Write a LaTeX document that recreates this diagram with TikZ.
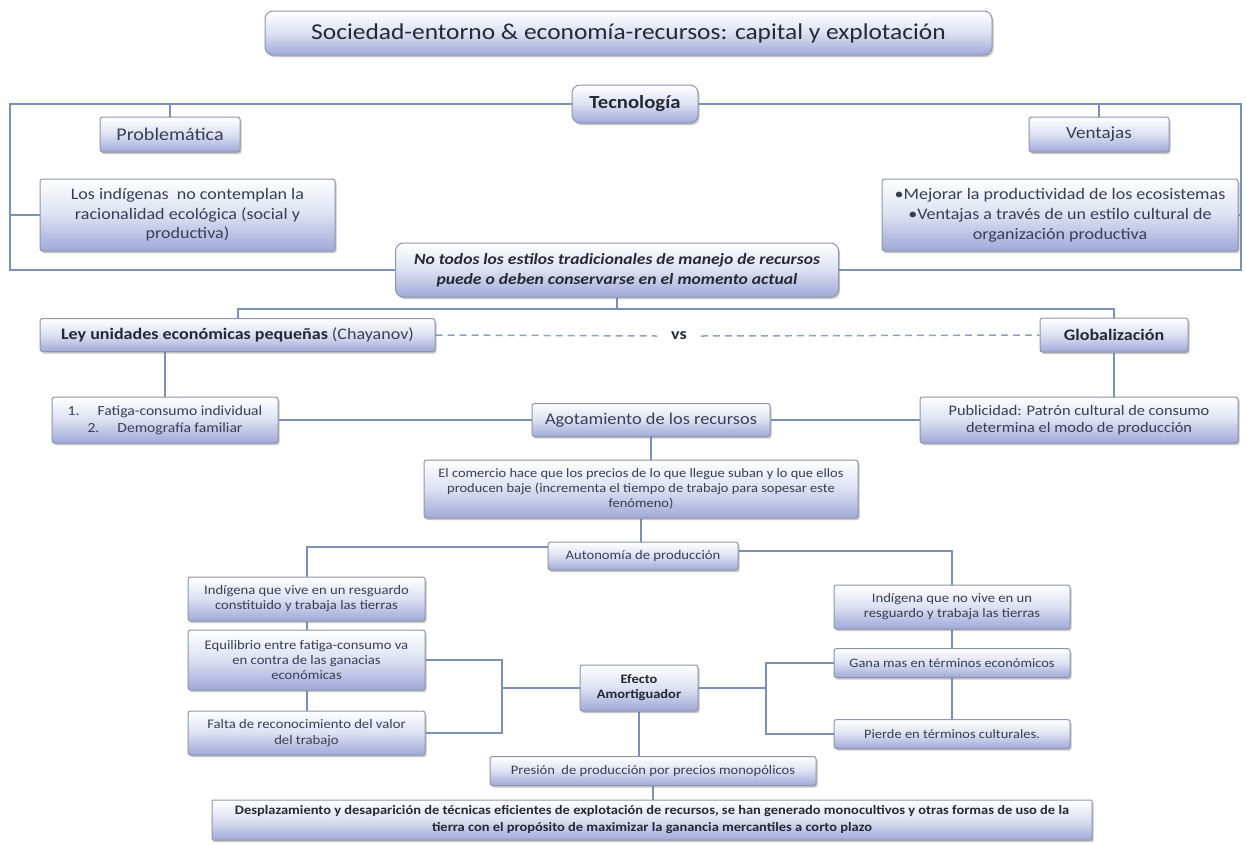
\documentclass[tikz,border=0pt]{standalone}
\usepackage{fontspec}
\setmainfont{Carlito}[FakeStretch=1.12]
\usetikzlibrary{shadows,backgrounds}
\definecolor{lnc}{HTML}{7A90B6}
\definecolor{bdc}{HTML}{8E95A8}
\definecolor{botc}{HTML}{A0A8D8}
\definecolor{midc}{HTML}{DCE0F2}
\definecolor{txc}{HTML}{3A3E54}
\definecolor{ttc}{HTML}{262833}
\tikzset{
  bx/.style={draw=bdc, line width=1pt, rounded corners=2.5pt,
    top color=white, bottom color=botc, middle color=midc,
    align=center, inner sep=2pt, text=txc,
    drop shadow={shadow xshift=1.5pt, shadow yshift=-2pt, opacity=0.4, fill=black!55}},
  rbx/.style={bx, rounded corners=8pt},
  ln/.style={draw=lnc, line width=2pt},
  dln/.style={draw=lnc!85, line width=1.5pt, dash pattern=on 7pt off 5pt},
}
\begin{document}
\begin{tikzpicture}[x=1pt, y=-1pt]
\useasboundingbox (0,0) rectangle (1246,844);

\node[rbx, minimum width=727pt, minimum height=44pt, text=ttc, font=\fontsize{22.7}{26}\selectfont] (title) at (628.5,33) {Sociedad-entorno \& economía-recursos: capital y explotación};
\node[rbx, minimum width=126pt, minimum height=38pt, text=ttc, font=\fontsize{18.5}{21}\selectfont\bfseries] (tec) at (635,104) {Tecnología};
\node[bx, minimum width=140pt, minimum height=35pt, font=\fontsize{17.9}{20}\selectfont] (prob) at (170,134.5) {Problemática};
\node[bx, minimum width=140pt, minimum height=35pt, font=\fontsize{17}{20}\selectfont] (vent) at (1099,134.5) {Ventajas};
\node[bx, minimum width=295pt, minimum height=72pt, font=\fontsize{16.1}{19.5}\selectfont] (indig) at (187.5,215) {Los indígenas\ \ no contemplan la\\racionalidad ecológica (social y\\productiva)};
\node[bx, minimum width=356pt, minimum height=72pt, font=\fontsize{16.1}{20}\selectfont] (mejor) at (1060,215) {•Mejorar la productividad de los ecosistemas\\•Ventajas a través de un estilo cultural de\\organización productiva};
\node[rbx, minimum width=443pt, minimum height=54pt, text=ttc, font=\fontsize{15.7}{20}\selectfont\bfseries\itshape] (notodos) at (617,270) {No todos los estilos tradicionales de manejo de recursos\\puede o deben conservarse en el momento actual};
\node[bx, minimum width=395pt, minimum height=33pt, font=\fontsize{16.1}{19}\selectfont] (ley) at (237.5,335) {\textcolor{ttc}{\bfseries Ley unidades económicas pequeñas} (Chayanov)};
\node[bx, minimum width=148pt, minimum height=34pt, text=ttc, font=\fontsize{16.1}{19}\selectfont\bfseries] (glob) at (1114,335) {Globalización};
\node[text=ttc, font=\fontsize{16}{19}\selectfont\bfseries, inner xsep=14pt, inner ysep=3pt] (vs) at (679,336) {vs};
\node[bx, minimum width=226pt, minimum height=46pt, font=\fontsize{13.9}{17}\selectfont] (fatiga) at (165,420) {1.\hspace{1.3em}Fatiga-consumo individual\\2.\hspace{1.3em}Demografía familiar};
\node[bx, minimum width=238pt, minimum height=33pt, font=\fontsize{16.4}{19}\selectfont] (agot) at (651,420) {Agotamiento de los recursos};
\node[bx, minimum width=318pt, minimum height=46pt, font=\fontsize{14.6}{16.5}\selectfont] (publi) at (1079,420) {Publicidad: Patrón cultural de consumo\\determina el modo de producción};
\node[bx, minimum width=434pt, minimum height=58pt, font=\fontsize{12.9}{15}\selectfont] (comer) at (641,489) {El comercio hace que los precios de lo que llegue suban y lo que ellos\\producen baje (incrementa el tiempo de trabajo para sopesar este\\fenómeno)};
\node[bx, minimum width=190pt, minimum height=28pt, font=\fontsize{13.1}{16}\selectfont] (auto) at (643,556) {Autonomía de producción};
\node[bx, minimum width=237pt, minimum height=44pt, font=\fontsize{13.1}{15}\selectfont] (vive) at (306.5,599) {Indígena que vive en un resguardo\\constituido y trabaja las tierras};
\node[bx, minimum width=236pt, minimum height=44pt, font=\fontsize{13.1}{15}\selectfont] (novive) at (952,607) {Indígena que no vive en un\\resguardo y trabaja las tierras};
\node[bx, minimum width=237pt, minimum height=60pt, font=\fontsize{13.1}{15}\selectfont] (equi) at (306.5,660) {Equilibrio entre fatiga-consumo va\\en contra de las ganacias\\económicas};
\node[bx, minimum width=237pt, minimum height=44pt, font=\fontsize{13.1}{16}\selectfont] (falta) at (306.5,733) {Falta de reconocimiento del valor\\del trabajo};
\node[bx, minimum width=118pt, minimum height=46pt, text=ttc, font=\fontsize{12.9}{15}\selectfont\bfseries] (efecto) at (639,688) {Efecto\\Amortiguador};
\node[bx, minimum width=236pt, minimum height=29pt, font=\fontsize{12.9}{16}\selectfont] (gana) at (952,663) {Gana mas en términos económicos};
\node[bx, minimum width=236pt, minimum height=29pt, font=\fontsize{12.9}{16}\selectfont] (pierde) at (952,734) {Pierde en términos culturales.};
\node[bx, minimum width=326pt, minimum height=29pt, font=\fontsize{13}{16}\selectfont] (presion) at (653,771) {Presión\ \ de producción por precios monopólicos};
\node[bx, rounded corners=1pt, minimum width=880pt, minimum height=40pt, text=ttc, font=\fontsize{12.9}{17}\selectfont\bfseries] (despl) at (652,820) {Desplazamiento y desaparición de técnicas eficientes de explotación de recursos, se han generado monocultivos y otras formas de uso de la\\tierra con el propósito de maximizar la ganancia mercantiles a corto plazo};

\coordinate (Lb) at (10,270);
\coordinate (Rb) at (1241,270);
\coordinate (J1) at (617,309);
\coordinate (B1) at (502,688);
\coordinate (B2) at (766,688);

\begin{scope}[on background layer]
\fill[white] (0,0) rectangle (1246,844);
\draw[ln] (tec.west) -| (Lb) -- (notodos.west);
\draw[ln] (tec.east) -| (Rb) -- (notodos.east);
\draw[ln] (prob.north) -- (prob.north |- tec.west);
\draw[ln] (vent.north) -- (vent.north |- tec.east);
\draw[ln] (indig.west) -- (indig.west -| Lb);
\draw[ln] (mejor.east) -- (mejor.east -| Rb);
\draw[ln] (notodos.south) -- (J1);
\draw[ln] (ley.north) |- (J1) -| (glob.north);
\draw[dln] (ley.east) -- (vs.west);
\draw[dln] (vs.east) -- (glob.west);
\draw[ln] (fatiga.north) -- (fatiga.north |- ley.south);
\draw[ln] (fatiga.east) -- (agot.west);
\draw[ln] (agot.east) -- (publi.west);
\draw[ln] (glob.south) -- (glob.south |- publi.north);
\draw[ln] (agot.south) -- (agot.south |- comer.north);
\draw[ln] (comer.south) -- (comer.south |- auto.north);
\draw[ln] ([yshift=9pt]auto.west) -| (vive.north);
\draw[ln] ([yshift=5pt]auto.east) -| (novive.north);
\draw[ln] (vive.south) -- (equi.north);
\draw[ln] (equi.south) -- (falta.north);
\draw[ln] (equi.east) -| (B1);
\draw[ln] (falta.east) -| (B1);
\draw[ln] (B1) -- (efecto.west);
\draw[ln] (efecto.east) -- (B2);
\draw[ln] (gana.west) -| (B2);
\draw[ln] (pierde.west) -| (B2);
\draw[ln] (novive.south) -- (gana.north);
\draw[ln] (gana.south) -- (pierde.north);
\draw[ln] (efecto.south) -- (efecto.south |- presion.north);
\draw[ln] (presion.south) -- (presion.south |- despl.north);
\end{scope}
\end{tikzpicture}
\end{document}
